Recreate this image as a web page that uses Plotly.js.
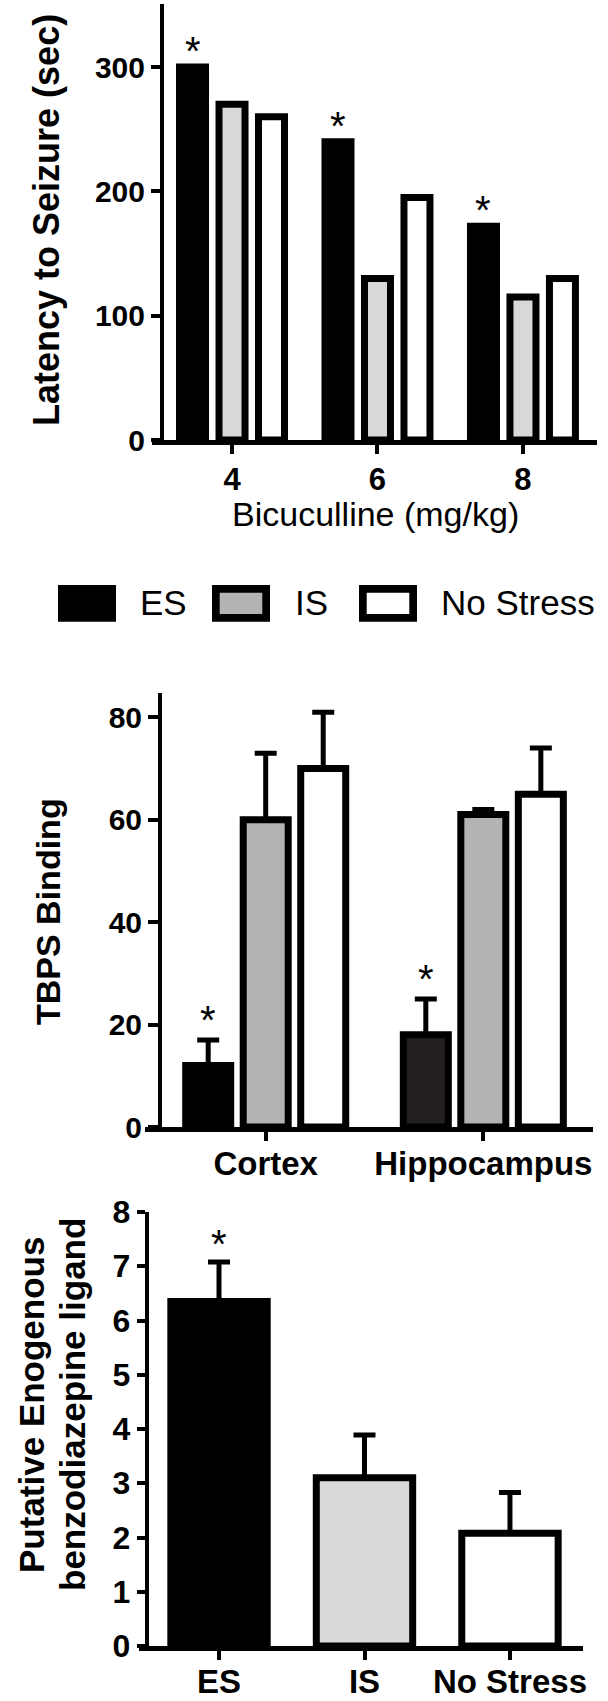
<!DOCTYPE html>
<html>
<head>
<meta charset="utf-8">
<script src="https://cdn.plot.ly/plotly-3.0.1.min.js"></script>
<style>
  body { margin: 0; background: #fff; }
  #chart { width: 608px; height: 1701px; }
</style>
</head>
<body>
<div id="chart"></div>
<script>
// panel A: latency to seizure
var doses = ['4', '6', '8'];
var latencyES = [300, 240, 172];
var latencyIS = [270, 130, 115];
var latencyNS = [260, 195, 130];

// panel B: TBPS binding
var regions = ['Cortex', 'Hippocampus'];
var tbpsES = [12, 18];
var tbpsESerr = [5, 7];
var tbpsIS = [60, 61];
var tbpsISerr = [13, 1];
var tbpsNS = [70, 65];
var tbpsNSerr = [11, 9];

// panel C: putative endogenous ligand
var groups = ['ES', 'IS', 'No Stress'];
var ligand = [6.35, 3.1, 2.08];
var ligandErr = [0.73, 0.79, 0.75];

var legendNames = ['ES', 'IS', 'No Stress'];

var W = 608, H = 1701;
var FONT = 'Liberation Sans, Arial, Helvetica, sans-serif';
function px(x) { return x / W; }
function py(y) { return 1 - y / H; }

function bars(x, y, fill, xa, ya, off, w, err) {
    var t = {
        type: 'bar', x: x, y: y, xaxis: xa, yaxis: ya,
        offset: off, width: w,
        marker: { color: fill, line: { color: '#000', width: 7 } },
        hoverinfo: 'skip', showlegend: false
    };
    if (err) {
        t.error_y = {
            type: 'data', symmetric: false, array: err,
            arrayminus: err.map(function () { return 0; }),
            color: '#000', thickness: 5, width: 11
        };
    }
    return t;
}

var data = [
    bars(doses, latencyES, '#000', 'x', 'y', -0.3608, 0.1787),
    bars(doses, latencyIS, '#d9d9d9', 'x', 'y', -0.0893, 0.1787),
    bars(doses, latencyNS, '#fff', 'x', 'y', 0.1821, 0.1787),

    bars(regions, tbpsES, ['#000', '#231f20'], 'x2', 'y2', -0.3677, 0.2068, tbpsESerr),
    bars(regions, tbpsIS, '#b3b3b3', 'x2', 'y2', -0.1034, 0.2068, tbpsISerr),
    bars(regions, tbpsNS, '#fff', 'x2', 'y2', 0.1609, 0.2068, tbpsNSerr),

    bars(groups, ligand, ['#000', '#d9d9d9', '#fff'], 'x3', 'y3', -0.3313, 0.6625, ligandErr)
];

function xAxis(domain, anchor, range, fontSize, standoff) {
    return {
        domain: domain, anchor: anchor, type: 'category', range: range,
        showline: true, linecolor: '#000', linewidth: 4.5,
        ticks: 'outside', ticklen: 9, tickwidth: 4, tickcolor: '#000',
        ticklabelstandoff: standoff,
        tickfont: { family: FONT, size: fontSize, color: '#000', weight: 'bold' },
        showgrid: false, zeroline: false, fixedrange: true
    };
}
function yAxis(domain, pos, range, tickvals, fontSize, ticklen) {
    return {
        domain: domain, anchor: 'free', position: pos, range: range,
        tickvals: tickvals,
        showline: true, linecolor: '#000', linewidth: 4,
        ticks: 'outside', ticklen: ticklen, tickwidth: 4, tickcolor: '#000',
        tickfont: { family: FONT, size: fontSize, color: '#000', weight: 'bold' },
        showgrid: false, zeroline: false, fixedrange: true
    };
}

var annotations = [];
function star(x, y, xref, yref, shift) {
    annotations.push({
        x: x, y: y, xref: xref, yref: yref, text: '*', showarrow: false,
        yanchor: 'bottom', yshift: shift,
        font: { family: FONT, size: 40, color: '#000' }
    });
}
for (var i = 0; i < doses.length; i++) star(i - 0.2715, latencyES[i], 'x', 'y', -8);
for (var j = 0; j < regions.length; j++) star(j - 0.2643, tbpsES[j] + tbpsESerr[j], 'x2', 'y2', -4);
star(0, ligand[0] + ligandErr[0], 'x3', 'y3', -6);

function label(text, x, y, size, bold, angle, xanchor) {
    annotations.push({
        text: text, x: px(x), y: py(y), xref: 'paper', yref: 'paper',
        showarrow: false, textangle: angle || 0,
        xanchor: xanchor || 'center', yanchor: 'middle',
        font: { family: FONT, size: size, color: '#000', weight: bold ? 'bold' : 'normal' }
    });
}
label('Latency to Seizure (sec)', 46, 220, 36, true, -90);
label('Bicuculline (mg/kg)', 375, 514, 34, false);
label('TBPS Binding', 48, 912, 34, true, -90);
label('Putative Enogenous', 31, 1405, 35, true, -90);
label('benzodiazepine ligand', 72, 1405, 35, true, -90);

// legend drawn as big swatches
var legendBoxes = [[58, 116, '#000', 0], [212, 270, '#b3b3b3', 7.7], [359, 417, '#fff', 7.7]];
var legendText = [138, 293, 439];
var shapes = [];
legendBoxes.forEach(function (b, k) {
    var inset = b[3] / 2;
    shapes.push({
        type: 'rect', xref: 'paper', yref: 'paper',
        x0: px(b[0] + inset), x1: px(b[1] - inset),
        y0: py(621.7 - inset), y1: py(585 + inset),
        fillcolor: b[2], line: { color: '#000', width: b[3] }
    });
    label(legendNames[k], legendText[k], 603, 35, false, 0, 'left');
});

var layout = {
    width: W, height: H,
    margin: { l: 0, r: 0, t: 0, b: 0 },
    paper_bgcolor: '#fff', plot_bgcolor: 'rgba(0,0,0,0)',
    showlegend: false, barmode: 'group',
    font: { family: FONT, color: '#000' },
    xaxis: xAxis([px(152), px(597)], 'y', [-0.55, 2.509], 31, -1),
    yaxis: yAxis([py(440), py(4)], px(162), [0, 350.7], [0, 100, 200, 300], 30, 9),
    xaxis2: xAxis([px(145), px(593)], 'y2', [-0.5547, 1.504], 33, -5),
    yaxis2: yAxis([py(1127), py(693)], px(160), [0, 84.75], [0, 20, 40, 60, 80], 30, 10),
    xaxis3: xAxis([px(139.3), px(583.3)], 'y3', [-0.548, 2.504], 33, -6),
    yaxis3: yAxis([py(1646), py(1212)], px(146.7), [0, 8], [0, 1, 2, 3, 4, 5, 6, 7, 8], 32, 8),
    annotations: annotations,
    shapes: shapes
};

Plotly.newPlot('chart', data, layout, { staticPlot: true });
</script>
</body>
</html>
